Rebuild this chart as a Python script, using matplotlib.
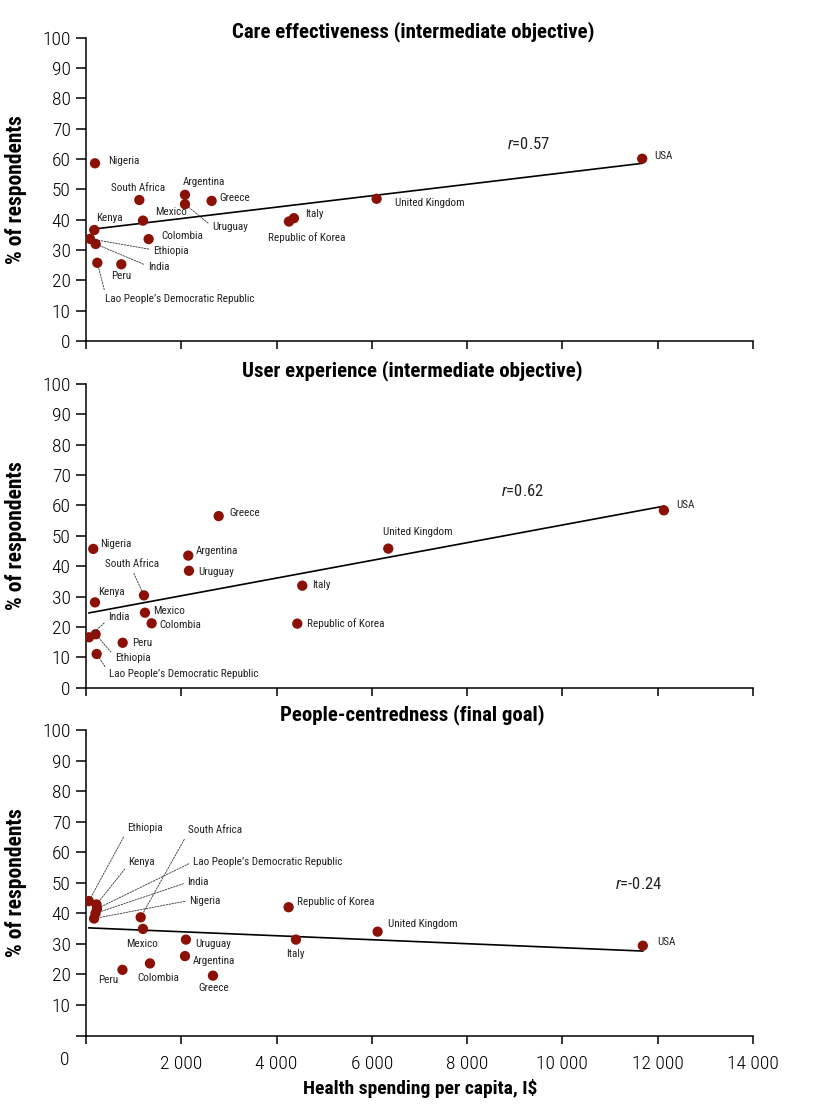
import numpy as np
import matplotlib.pyplot as plt

plt.rcParams['font.family'] = ['Roboto Condensed', 'Liberation Sans Narrow', 'DejaVu Sans']
plt.rcParams['font.stretch'] = 'condensed'
plt.rcParams['mathtext.fontset'] = 'custom'
plt.rcParams['mathtext.rm'] = 'Roboto Condensed'
plt.rcParams['mathtext.it'] = 'Roboto Condensed:italic'

# ---- data ----
countries = ["Nigeria", "South Africa", "Argentina", "Uruguay", "Greece", "Mexico",
             "Kenya", "Colombia", "Ethiopia", "India",
             "Lao People\u2019s Democratic Republic", "Peru", "Italy",
             "Republic of Korea", "United Kingdom", "USA"]

care_spend = [189, 1120, 2078, 2078, 2637, 1196, 175, 1315, 84, 203, 238, 741, 4365, 4260, 6100, 11675]
care_pct = [58.6, 46.5, 48.2, 45.1, 46.2, 39.7, 36.6, 33.6, 33.7, 32.0, 25.8, 25.3, 40.5, 39.4, 46.9, 60.1]

user_spend = [153, 1217, 2147, 2162, 2785, 1238, 189, 1378, 203, 63, 224, 770, 4540, 4435, 6345, 12130]
user_pct = [45.7, 30.4, 43.5, 38.5, 56.5, 24.7, 28.1, 21.2, 17.6, 16.6, 11.1, 14.8, 33.6, 21.1, 45.8, 58.4]

people_spend = [170, 1148, 2078, 2098, 2665, 1196, 220, 1343, 60, 200, 230, 766, 4407, 4253, 6121, 11688]
people_pct = [38.3, 38.7, 26.0, 31.4, 19.6, 34.9, 42.9, 23.6, 44.0, 40.0, 41.5, 21.5, 31.4, 42.0, 34.0, 29.4]

titles = ["Care effectiveness (intermediate objective)",
          "User experience (intermediate objective)",
          "People-centredness (final goal)"]
r_values = ["0.57", "0.62", "-0.24"]

xticks = [0, 2000, 4000, 6000, 8000, 10000, 12000, 14000]
xtick_labels = ["", "2 000", "4 000", "6 000", "8 000", "10 000", "12 000", "14 000"]
yticks = list(range(0, 101, 10))

# ---- label placement: offset in pixels (dx, dy up), alignment, leader line relpos ----
care_lbl = {
    "Nigeria": (13, 2, 'left', None), "South Africa": (-1, 12, 'center', None),
    "Argentina": (-2, 13, 'left', None), "Greece": (8, 3, 'left', None),
    "Mexico": (12, 9, 'left', None), "Uruguay": (27, -23, 'left', (0, 0.6)),
    "Kenya": (2, 12, 'left', None), "Colombia": (13, 3, 'left', None),
    "Ethiopia": (63, -12, 'left', (0, 0.6)), "India": (52, -23, 'left', (0, 0.6)),
    "Lao People\u2019s Democratic Republic": (8, -36, 'left', (0, 1)),
    "Peru": (0, -12, 'center', None), "Italy": (11, 4, 'left', None),
    "Republic of Korea": (18, -16, 'center', None), "United Kingdom": (18, -4, 'left', None),
    "USA": (12, 3, 'left', None),
}
user_lbl = {
    "Greece": (11, 3, 'left', None), "Nigeria": (7, 5, 'left', None),
    "Argentina": (7, 5, 'left', None), "Uruguay": (9, -1, 'left', None),
    "South Africa": (-12, 31, 'center', (0.5, 0)), "Kenya": (3, 10, 'left', None),
    "Mexico": (8, 2, 'left', None), "Colombia": (8, -2, 'left', None),
    "Italy": (10, 1, 'left', None), "Republic of Korea": (10, 0, 'left', None),
    "India": (19, 20, 'left', (0, 0.3)), "Ethiopia": (19, -24, 'left', (0, 0.7)),
    "Peru": (9, 0, 'left', None),
    "Lao People\u2019s Democratic Republic": (12, -20, 'left', (0, 0.7)),
    "United Kingdom": (-5, 17, 'left', None), "USA": (12, 5, 'left', None),
}
people_lbl = {
    "Ethiopia": (38, 73, 'left', (0, 0.2)), "Kenya": (32, 42, 'left', (0, 0.3)),
    "South Africa": (47, 87, 'left', (0, 0.2)),
    "Lao People\u2019s Democratic Republic": (96, 47, 'left', (0, 0.5)),
    "India": (92, 31, 'left', (0, 0.5)), "Nigeria": (95, 18, 'left', (0, 0.5)),
    "Republic of Korea": (8, 6, 'left', None), "Mexico": (-1, -15, 'center', None),
    "Uruguay": (9, -4, 'left', None), "Argentina": (8, -5, 'left', None),
    "Colombia": (8, -15, 'center', None), "Peru": (-14, -10, 'center', None),
    "Greece": (1, -12, 'center', None), "Italy": (-1, -14, 'center', None),
    "United Kingdom": (10, 8, 'left', None), "USA": (14, 4, 'left', None),
}

r_pos = [(9300, 65.0), (9170, 64.9), (11600, 49.6)]
title_y = [1.02, 1.045, 1.05]
dot_color = '#8b1006'

fig = plt.figure(figsize=(8.15, 11.13), dpi=100)
rects = [[0.1055, 0.6936, 0.8184, 0.2725],
         [0.1055, 0.3821, 0.8184, 0.2729],
         [0.1055, 0.0696, 0.8184, 0.2745]]

panels = [(care_spend, care_pct, care_lbl),
          (user_spend, user_pct, user_lbl),
          (people_spend, people_pct, people_lbl)]

for i, (xs, ys, lbl) in enumerate(panels):
    ax = fig.add_axes(rects[i])
    xs = np.array(xs, dtype=float)
    ys = np.array(ys, dtype=float)

    # fitted line
    slope, icpt = np.polyfit(xs, ys, 1)
    xl = np.array([xs.min(), xs.max()])
    ax.plot(xl, icpt + slope * xl, color='black', lw=1.2, zorder=2)

    ax.scatter(xs, ys, s=55, color=dot_color, edgecolors='none', zorder=3)

    for name, x, y in zip(countries, xs, ys):
        dx, dy, ha, rel = lbl[name]
        kw = {}
        if rel is not None:
            kw['arrowprops'] = dict(arrowstyle='-', color='#333333', lw=0.6,
                                    linestyle=(0, (2, 1.5)), relpos=rel,
                                    shrinkA=1, shrinkB=3)
        ax.annotate(name, (x, y), xytext=(dx, dy), textcoords='offset pixels',
                    ha=ha, va='center', fontsize=8, color='#222222', **kw)

    ax.text(r_pos[i][0], r_pos[i][1], r'$\mathit{r}$=' + r_values[i],
            ha='center', va='center', fontsize=12, color='#222222')

    ax.text(0.49, title_y[i], titles[i], transform=ax.transAxes, ha='center',
            va='center', fontsize=15, fontweight='bold')

    ax.set_xlim(0, 14000)
    ax.set_ylim(0, 100)
    ax.set_xticks(xticks)
    ax.set_yticks(yticks)
    if i < 2:
        ax.set_xticklabels([])
        ax.set_yticklabels([str(v) for v in yticks])
    else:
        ax.set_xticklabels(xtick_labels)
        ax.set_yticklabels([''] + [str(v) for v in yticks[1:]])
    for s in ['top', 'right']:
        ax.spines[s].set_visible(False)
    for s in ['left', 'bottom']:
        ax.spines[s].set_linewidth(1.1)
    ax.tick_params(axis='y', length=7, width=1.1, pad=4, labelsize=14)
    ax.tick_params(axis='x', length=6, width=1.1, pad=8, labelsize=14)
    for t in ax.get_xticklabels() + ax.get_yticklabels():
        t.set_fontweight('light')
    ax.set_ylabel('% of respondents', fontsize=15.5, fontweight='bold')
    ax.yaxis.set_label_coords(-0.088, 0.5)

fig.text(65 / 815, 1 - 1060 / 1113, "0", ha='center', va='center', fontsize=14,
         fontweight='light')
fig.text(420 / 815, 1 - 1088 / 1113, "Health spending per capita, I$",
         ha='center', va='center', fontsize=14, fontweight='bold')

fig.savefig('out.png', dpi=100)
